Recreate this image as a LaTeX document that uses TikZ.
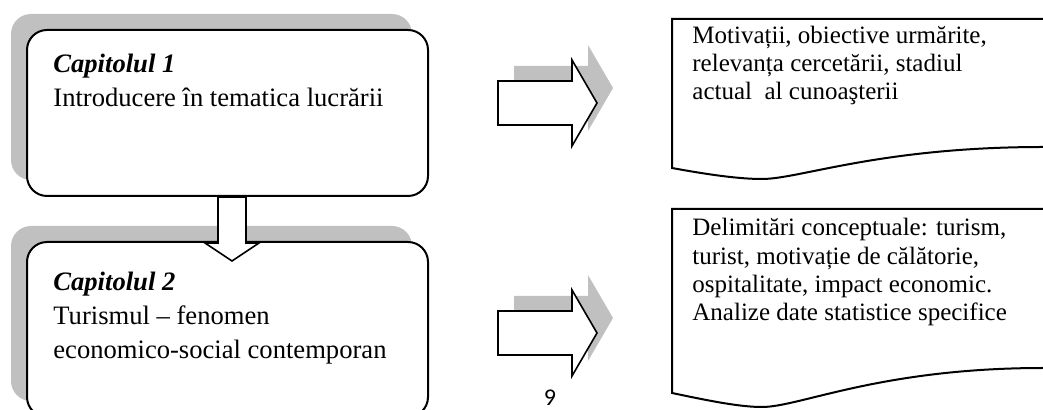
\documentclass[tikz,border=0pt]{standalone}
\usepackage{fontspec}
\setmainfont{Liberation Serif}
\newfontfamily\pagenofont{Carlito}
\usepackage{tikz}
\usetikzlibrary{calc,fit}
\definecolor{shade}{HTML}{C0C0C0}
\tikzset{
  chapbox/.style={draw=black, fill=white, line width=1pt, rounded corners=10pt, inner sep=0pt},
  chapshadow/.style={fill=shade, rounded corners=10pt},
  blockarr/.style={draw=black, fill=white, line width=0.8pt, line join=miter},
  arrshadow/.style={fill=shade},
  docbox/.style={draw=black, fill=white, line width=1pt},
  chaptext/.style={font=\fontsize{13.3}{17}\selectfont, align=left, inner sep=0pt, anchor=base west},
  doctext/.style={font=\fontsize{12.5}{14.2}\selectfont, align=left, inner sep=0pt, anchor=base west},
}

\begin{document}
\begin{tikzpicture}[x=0.5pt, y=-0.5pt]
  \useasboundingbox (0,0) rectangle (1043,410);
  \clip (0,0) rectangle (1043,410);
  % chapter boxes with their shadows
  \fill[chapshadow] (11,14) rectangle (412,180);
  \fill[chapshadow] (11,226) rectangle (412,401);
  \node[chapbox, fit={(27,30) (428,196)}] (cap1) {};
  \node[chapbox, fit={(27,242) (428,417)}] (cap2) {};
  \draw[blockarr] ($(cap1.south)+(-9.5,0)$) -- ++(28,0) -- ++(0,46) -- ++(13,0)
    -- ++(-27,18) -- ++(-27,-18) -- ++(13,0) -- cycle;
  % right arrows
  \foreach \t in {81,311}{
    \fill[arrshadow] (514,\t-15) -- ++(74,0) -- ++(0,-21) -- ++(25,43)
      -- ++(-25,43) -- ++(0,-21) -- ++(-74,0) -- cycle;
    \draw[blockarr] (498,\t) -- ++(74,0) -- ++(0,-21) -- ++(25,43)
      -- ++(-25,43) -- ++(0,-21) -- ++(-74,0) -- cycle;
  }
  % documents
  \draw[docbox] (672,19) -- (1060,19) -- (1060,147) -- (1043,147)
    .. controls (880,147) and (800,179) .. (762,179)
    .. controls (740,179) and (710,175) .. (672,168) -- cycle;
  \draw[docbox] (672,209) -- (1060,209) -- (1060,368) -- (1043,368)
    .. controls (880,368) and (800,407) .. (762,407)
    .. controls (740,407) and (710,401) .. (672,393) -- cycle;
  % texts (placed at the baseline of their last line)
  \node[chaptext] (cap1txt) at (53,107) {\textbf{\textit{Capitolul 1}}\\Introducere în tematica lucrării};
  \node[chaptext] (cap2txt) at (53,359) {\textbf{\textit{Capitolul 2}}\\Turismul – fenomen\\economico-social contemporan};
  \node[doctext] (doc1txt) at (692,100) {Motivații, obiective urmărite,\\relevanța cercetării, stadiul\\actual\ \ al cunoaşterii};
  \node[doctext] (doc2txt) at (692,321) {Delimitări conceptuale: turism,\\turist, motivație de călătorie,\\ospitalitate, impact economic.\\Analize date statistice specifice};
  \node[font=\pagenofont\fontsize{12}{14}\selectfont] (pageno) at (550,398) {9};
\end{tikzpicture}
\end{document}
